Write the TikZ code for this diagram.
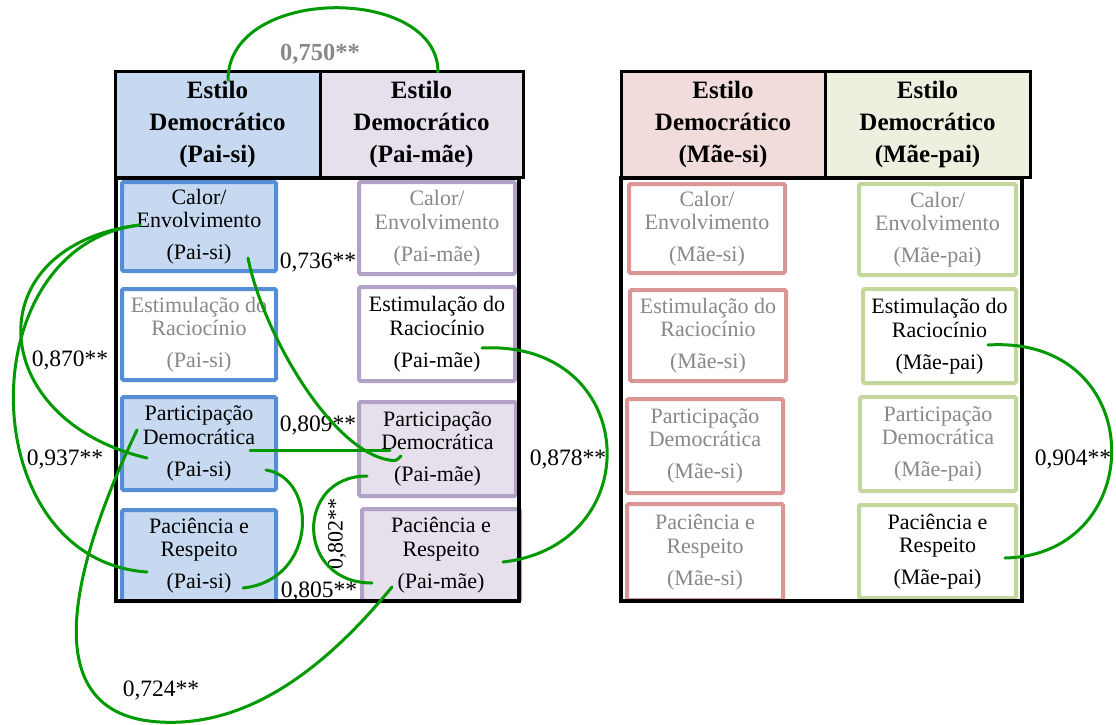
\documentclass[tikz,border=0pt]{standalone}
\usepackage{fontspec}
\setmainfont{Liberation Serif}
\definecolor{linkgreen}{RGB}{0,153,0}
\definecolor{txtgray}{RGB}{136,136,136}
\definecolor{bluefill}{HTML}{C6D9F1}
\definecolor{blueline}{HTML}{558ED5}
\definecolor{lavfill}{HTML}{E6E0EC}
\definecolor{lavline}{HTML}{B3A2C7}
\definecolor{pinkfill}{HTML}{F2DCDB}
\definecolor{pinkline}{HTML}{D99694}
\definecolor{greenfill}{HTML}{EBF1DE}
\definecolor{greenline}{HTML}{C3D69B}
\begin{document}
\begin{tikzpicture}[x=1pt,y=-1pt,
  hdr/.style={draw=black, line width=3pt, align=center, inner sep=0pt,
    minimum height=106pt, font=\fontsize{25}{32}\selectfont\bfseries},
  frame/.style={draw=black, line width=4pt, inner sep=0pt},
  box/.style={draw, line width=4pt, rounded corners=1.5pt, align=center, inner sep=0pt,
    font=\fontsize{22}{23.5}\selectfont},
  bluebox/.style={box, draw=blueline, fill=bluefill},
  blueopen/.style={box, draw=blueline, fill=white, text=txtgray},
  lavbox/.style={box, draw=lavline, fill=lavfill},
  lavopen/.style={box, draw=lavline, fill=white},
  pinkbox/.style={box, draw=pinkline, fill=white, text=txtgray},
  grnbox/.style={box, draw=greenline, fill=white},
  lab/.style={inner sep=0pt, font=\fontsize{23.5}{25}\selectfont},
  link/.style={draw=linkgreen, line width=3pt, line cap=round}
]
\useasboundingbox (0,0) rectangle (1116,724);

% ---------- left panel: father ----------
\node[hdr, fill=bluefill, minimum width=205pt] (hl1) at (217.5,124) {Estilo\\Democrático\\(Pai-si)};
\node[hdr, fill=lavfill, minimum width=203pt] (hl2) at (421.5,124) {Estilo\\Democrático\\(Pai-mãe)};

\node[bluebox, minimum width=154pt, minimum height=89pt] (ps1) at (199,226.5)
  {Calor/\\Envolvimento\\[8.5pt](Pai-si)};
\node[blueopen, minimum width=154pt, minimum height=91pt] (ps2) at (199,334.5)
  {Estimulação do\\Raciocínio\\[8.5pt](Pai-si)};
\node[bluebox, minimum width=154pt, minimum height=93pt] (ps3) at (199,443.5)
  {Participação\\Democrática\\[8.5pt](Pai-si)};
\node[bluebox, minimum width=154pt, minimum height=91pt] (ps4) at (199,555.5)
  {Paciência e\\Respeito\\[8.5pt](Pai-si)};

\node[lavopen, text=txtgray, minimum width=156pt, minimum height=92pt] (pm1) at (437,228)
  {Calor/\\Envolvimento\\[8.5pt](Pai-mãe)};
\node[lavopen, minimum width=156pt, minimum height=94pt] (pm2) at (437,334)
  {Estimulação do\\Raciocínio\\[8.5pt](Pai-mãe)};
\node[lavbox, minimum width=157pt, minimum height=94pt] (pm3) at (437.5,449)
  {Participação\\Democrática\\[8.5pt](Pai-mãe)};
\node[lavbox, minimum width=158pt, minimum height=92pt] (pm4) at (441,555)
  {Paciência e\\Respeito\\[8.5pt](Pai-mãe)};

\node[frame, minimum width=403pt, minimum height=423pt] (frameL) at (317.5,389.5) {};

% ---------- right panel: mother ----------
\node[hdr, fill=pinkfill, minimum width=204pt] (hr1) at (723,124) {Estilo\\Democrático\\(Mãe-si)};
\node[hdr, fill=greenfill, minimum width=205pt] (hr2) at (927.5,124) {Estilo\\Democrático\\(Mãe-pai)};

\node[pinkbox, minimum width=156pt, minimum height=89pt] (ms1) at (707,228.5)
  {Calor/\\Envolvimento\\[8.5pt](Mãe-si)};
\node[pinkbox, minimum width=156pt, minimum height=91pt] (ms2) at (708,335.5)
  {Estimulação do\\Raciocínio\\[8.5pt](Mãe-si)};
\node[pinkbox, minimum width=156pt, minimum height=94pt] (ms3) at (705,446)
  {Participação\\Democrática\\[8.5pt](Mãe-si)};
\node[pinkbox, minimum width=156pt, minimum height=96pt] (ms4) at (705,552)
  {Paciência e\\Respeito\\[8.5pt](Mãe-si)};

\node[grnbox, text=txtgray, minimum width=157pt, minimum height=91pt] (mp1) at (937.5,229.5)
  {Calor/\\Envolvimento\\[8.5pt](Mãe-pai)};
\node[grnbox, minimum width=153pt, minimum height=94pt] (mp2) at (939.5,336)
  {Estimulação do\\Raciocínio\\[8.5pt](Mãe-pai)};
\node[grnbox, text=txtgray, minimum width=156pt, minimum height=94pt] (mp3) at (938,444)
  {Participação\\Democrática\\[8.5pt](Mãe-pai)};
\node[grnbox, minimum width=157pt, minimum height=93pt] (mp4) at (937.5,551.5)
  {Paciência e\\Respeito\\[8.5pt](Mãe-pai)};

\node[frame, minimum width=401pt, minimum height=423pt] (frameR) at (821.5,389.5) {};

% ---------- coefficient labels ----------
\node[lab, text=txtgray, font=\fontsize{24.5}{25}\selectfont\bfseries] (l750) at (320,54) {0,750**};
\node[lab] (l736) at (318,262) {0,736**};
\node[lab] (l870) at (70,360) {0,870**};
\node[lab] (l937) at (65,459) {0,937**};
\node[lab] (l809) at (318,425) {0,809**};
\node[lab] (l878) at (568,459) {0,878**};
\node[lab, rotate=90, font=\fontsize{22}{23}\selectfont] (l802) at (337,534) {0,802**};
\node[lab] (l805) at (319,591) {0,805**};
\node[lab] (l724) at (161,690) {0,724**};
\node[lab] (l904) at (1073,459) {0,904**};

% ---------- link end points ----------
\coordinate (a750) at ([shift={(10.5,-44)}]hl1.center);
\coordinate (b750) at ([shift={(16.5,-52)}]hl2.center);
\coordinate (calL) at ([shift={(-59,-1.5)}]ps1.center);
\coordinate (calR) at ([shift={(49,31.5)}]ps1.center);
\coordinate (parL) at ([shift={(-52,14.5)}]ps3.center);
\coordinate (parT) at ([shift={(-62,-13.5)}]ps3.center);
\coordinate (parR) at ([shift={(51,6.5)}]ps3.center);
\coordinate (parB) at ([shift={(67,26.5)}]ps3.center);
\coordinate (pacL) at ([shift={(-52,16.5)}]ps4.center);
\coordinate (pacR) at ([shift={(44,32.5)}]ps4.center);
\coordinate (estM) at ([shift={(45,14)}]pm2.center);
\coordinate (parMh) at ([shift={(-36.5,7)}]pm3.center);
\coordinate (parMl) at ([shift={(-47.5,1)}]pm3.center);
\coordinate (parMb) at ([shift={(-70.5,27)}]pm3.center);
\coordinate (pacMl) at ([shift={(-69,28)}]pm4.center);
\coordinate (pacMr) at ([shift={(62,7)}]pm4.center);
\coordinate (pacMb) at ([shift={(-49,32)}]pm4.center);
\coordinate (estP) at ([shift={(48.5,9)}]mp2.center);
\coordinate (pacP) at ([shift={(67.5,6.5)}]mp4.center);
\coordinate (low724) at (160,722);

% ---------- links ----------
\draw[link] (a750) .. controls (228,-15) and (438,-15) .. (b750);
\draw[link] (calL) .. controls (-25,245) and (-15,420) .. (parL);
\draw[link] (calL) .. controls (-32,245) and (-28,560) .. (pacL);
\draw[link] (calR) .. controls (262,330) and (330,450) .. (389,460)
  .. controls (396,461) .. (parMh);
\draw[link] (parR) -- (parMl);
\draw[link] (parB) .. controls (318,478) and (318,580) .. (pacR);
\draw[link] (parMb) .. controls (295,476) and (295,583) .. (pacMl);
\draw[link] (estM) .. controls (640,340) and (650,545) .. (pacMr);
\draw[link] (estP) .. controls (1150,335) and (1150,555) .. (pacP);
\draw[link] (parT) .. controls (75,560) and (30,715) .. (low724)
  .. controls (260,728) and (340,650) .. (pacMb);
\end{tikzpicture}
\end{document}
